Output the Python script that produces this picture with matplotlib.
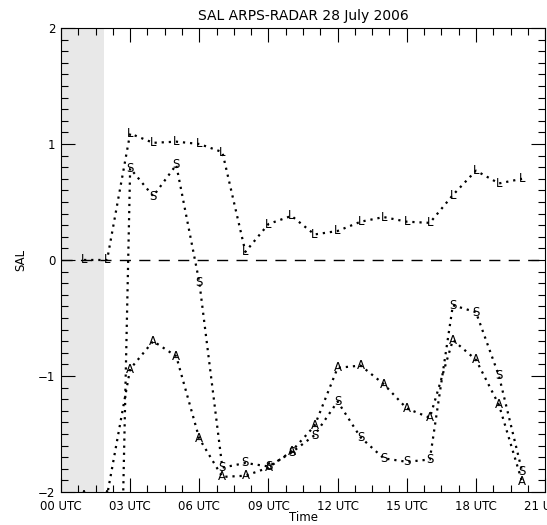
import numpy as np
import matplotlib
matplotlib.use('Agg')
import matplotlib.pyplot as plt
from matplotlib.ticker import MultipleLocator

# hours (UTC) of each comparison
hours = [1, 2, 3, 4, 5, 6, 7, 8, 9, 10, 11, 12, 13, 14, 15, 16, 17, 18, 19, 20]

# S, A, L components
S_vals = [-8.5, -8.5, 0.79, 0.55, 0.82, -0.19, -1.79, -1.75, -1.78, -1.66,
          -1.51, -1.22, -1.53, -1.71, -1.74, -1.72, -0.39, -0.45, -1.0, -1.82]
A_vals = [-2.03, -2.03, -0.94, -0.70, -0.83, -1.54, -1.87, -1.86, -1.79, -1.65,
          -1.43, -0.93, -0.91, -1.07, -1.28, -1.36, -0.69, -0.86, -1.25, -1.91]
L_vals = [0.0, 0.0, 1.09, 1.01, 1.02, 1.0, 0.93, 0.07, 0.31, 0.38,
          0.22, 0.25, 0.33, 0.37, 0.33, 0.32, 0.56, 0.77, 0.66, 0.70]

# no radar data before this time
no_data_end = 1.85

xtick_pos = [0, 3, 6, 9, 12, 15, 18, 21]
xtick_lab = ['00 UTC', '03 UTC', '06 UTC', '09 UTC', '12 UTC', '15 UTC', '18 UTC', '21 UTC']
ytick_pos = [-2, -1, 0, 1, 2]

plt.rcParams['font.family'] = 'DejaVu Sans'

fig = plt.figure(figsize=(5.47, 5.25), dpi=100)
ax = fig.add_axes([0.1115, 0.0629, 0.885, 0.8838])

ax.set_xlim(0, 21)
ax.set_ylim(-2, 2)

ax.axvspan(0, no_data_end, color='#e8e8e8', lw=0, zorder=0)
ax.axhline(0, color='black', lw=1.0, ls=(0, (8, 6)), zorder=1)

dot = (0, (1, 2.2))
ymin = ax.get_ylim()[0]
for vals, sym in [(S_vals, 'S'), (A_vals, 'A'), (L_vals, 'L')]:
    ax.plot(hours, vals, color='black', lw=1.6, ls=dot, zorder=2)
    for h, v in zip(hours, vals):
        # symbols far below the axis are not shown
        if v < ymin - 0.05:
            continue
        ax.text(h, v, sym, fontsize=8.5, ha='center', va='center',
                color='black', clip_on=True, zorder=3)

ax.set_xticks(xtick_pos)
ax.set_xticklabels(xtick_lab)
ax.xaxis.set_minor_locator(MultipleLocator(0.75))
ax.set_yticks(ytick_pos)
ax.set_yticklabels(['\u22122', '\u22121', '0', '1', '2'])
ax.yaxis.set_minor_locator(MultipleLocator(0.1))

ax.tick_params(which='both', direction='in', top=True, right=True,
               labelsize=8.5)
ax.tick_params(axis='x', pad=6)
ax.tick_params(axis='y', pad=4)
ax.tick_params(which='major', length=10, width=0.8)
ax.tick_params(which='minor', length=5, width=0.8)
for sp in ax.spines.values():
    sp.set_linewidth(0.8)

ax.set_title('SAL ARPS-RADAR 28 July 2006', fontsize=10, pad=6)
ax.set_xlabel('Time', fontsize=8.5, labelpad=-2)
ax.set_ylabel('SAL', fontsize=8.5, labelpad=8)

plt.savefig('out.png', dpi=100)
